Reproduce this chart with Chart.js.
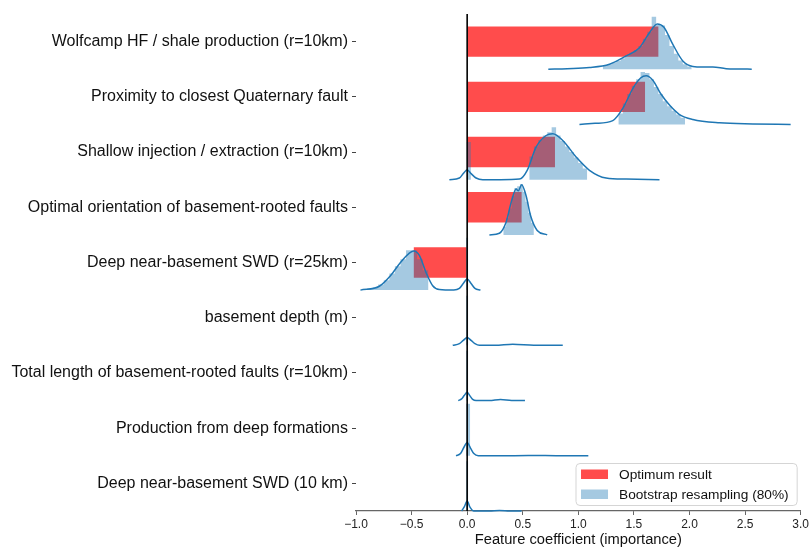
<!DOCTYPE html>
<html>
<head>
<meta charset="utf-8">
<script src="https://cdn.jsdelivr.net/npm/chart.js@4"></script>
<style>
  html, body { margin: 0; padding: 0; background: #fff; }
</style>
</head>
<body>
<canvas id="chart" width="811" height="549"></canvas>
<script>
// feature names, top to bottom
const categories = [
  'Wolfcamp HF / shale production (r=10km)',
  'Proximity to closest Quaternary fault',
  'Shallow injection / extraction (r=10km)',
  'Optimal orientation of basement-rooted faults',
  'Deep near-basement SWD (r=25km)',
  'basement depth (m)',
  'Total length of basement-rooted faults (r=10km)',
  'Production from deep formations',
  'Deep near-basement SWD (10 km)',
];

// optimum coefficient per feature
const optimum = [1.72, 1.60, 0.79, 0.49, -0.48, 0, 0, 0, 0];

// bootstrap KDE curves (x = coefficient, h = height in row units)
const kdeX = [
  [0.73, 0.90, 1.10, 1.28, 1.43, 1.55, 1.64, 1.71, 1.77, 1.85, 1.94, 2.03, 2.12, 2.21, 2.33, 2.45, 2.56],
  [1.01, 1.15, 1.31, 1.40, 1.49, 1.56, 1.61, 1.67, 1.74, 1.82, 1.91, 2.03, 2.27, 2.57, 2.91],
  [-0.16, -0.07, -0.035, 0, 0.035, 0.08, 0.14, 0.30, 0.47, 0.54, 0.62, 0.71, 0.77, 0.86, 0.98, 1.10, 1.25, 1.43, 1.73],
  [0.20, 0.29, 0.35, 0.40, 0.44, 0.46, 0.49, 0.53, 0.57, 0.63, 0.72],
  [-0.96, -0.79, -0.69, -0.60, -0.52, -0.48, -0.43, -0.37, -0.31, -0.25, -0.12, -0.07, -0.035, 0, 0.035, 0.07, 0.12],
  [-0.13, -0.07, -0.035, 0, 0.035, 0.07, 0.11, 0.25, 0.41, 0.60, 0.86],
  [-0.08, -0.05, -0.027, 0, 0.027, 0.05, 0.08, 0.20, 0.30, 0.40, 0.52],
  [-0.10, -0.06, -0.03, 0, 0.03, 0.06, 0.10, 0.30, 0.55, 0.80, 1.09],
  [-0.05, -0.025, 0, 0.025, 0.06, 0.20, 0.29, 0.38, 0.49],
];
const kdeH = [
  [0, 0.01, 0.03, 0.09, 0.24, 0.39, 0.66, 0.82, 0.76, 0.45, 0.15, 0.05, 0.04, 0.04, 0.01, 0.005, 0],
  [0, 0.02, 0.07, 0.29, 0.65, 0.84, 0.88, 0.80, 0.56, 0.35, 0.18, 0.09, 0.03, 0.01, 0],
  [0, 0.03, 0.11, 0.18, 0.11, 0.03, 0, 0, 0.01, 0.17, 0.59, 0.80, 0.83, 0.71, 0.41, 0.17, 0.03, 0.01, 0],
  [0, 0.03, 0.23, 0.62, 0.83, 0.80, 0.91, 0.71, 0.35, 0.08, 0],
  [0, 0.07, 0.26, 0.50, 0.67, 0.71, 0.63, 0.32, 0.08, 0.01, 0, 0.03, 0.12, 0.20, 0.12, 0.03, 0],
  [0, 0.03, 0.09, 0.14, 0.09, 0.03, 0, 0, 0.02, 0.002, 0],
  [0, 0.03, 0.09, 0.15, 0.08, 0.02, 0, 0, 0.02, 0.002, 0],
  [0, 0.04, 0.15, 0.24, 0.14, 0.04, 0, 0, 0.005, 0.002, 0],
  [0, 0.08, 0.18, 0.07, 0, 0, 0.01, 0.002, 0],
];

// bootstrap histograms (bin edges and bin heights)
const histEdges = [
  [1.22, 1.26, 1.30, 1.34, 1.38, 1.42, 1.46, 1.50, 1.54, 1.58, 1.62, 1.66, 1.70, 1.74, 1.78, 1.82, 1.86, 1.90, 1.94, 1.98, 2.02],
  [1.36, 1.40, 1.44, 1.48, 1.52, 1.56, 1.60, 1.64, 1.68, 1.72, 1.76, 1.80, 1.84, 1.88, 1.92, 1.96],
  [-0.006, 0.033, 0.56, 0.60, 0.64, 0.68, 0.72, 0.76, 0.80, 0.84, 0.88, 0.92, 0.96, 1.00, 1.04, 1.08],
  [0.325, 0.35, 0.375, 0.40, 0.425, 0.45, 0.475, 0.50, 0.525, 0.55, 0.575, 0.60],
  [-0.95, -0.90, -0.85, -0.80, -0.75, -0.70, -0.65, -0.60, -0.55, -0.50, -0.45, -0.40, -0.35, -0.01, 0.01],
  [-0.01, 0.01],
  [-0.01, 0.01],
  [-0.01, 0.027],
  [-0.01, 0.01],
];
const histH = [
  [0.07, 0.09, 0.12, 0.15, 0.20, 0.25, 0.30, 0.35, 0.42, 0.55, 0.68, 0.95, 0.80, 0.79, 0.62, 0.42, 0.28, 0.16, 0.09, 0.05],
  [0.20, 0.38, 0.55, 0.70, 0.82, 0.95, 0.93, 0.82, 0.68, 0.55, 0.42, 0.33, 0.25, 0.18, 0.12],
  [0.68, 0, 0.42, 0.60, 0.72, 0.80, 0.86, 0.95, 0.80, 0.70, 0.60, 0.50, 0.40, 0.30, 0.20],
  [0.15, 0.30, 0.48, 0.70, 0.85, 0.88, 0.92, 0.78, 0.60, 0.40, 0.22],
  [0.01, 0.03, 0.05, 0.10, 0.18, 0.30, 0.43, 0.56, 0.72, 0.72, 0.56, 0.36, 0, 0.95],
  [0.90],
  [0.90],
  [0.94],
  [0.90],
];

const xTickValues = [-1.0, -0.5, 0.0, 0.5, 1.0, 1.5, 2.0, 2.5, 3.0];

const RED = 'rgba(255, 0, 0, 0.7)';
const BLUE = '#1f77b4';
const BLUE_FILL = 'rgba(31, 119, 180, 0.4)';
const FONT = '"Liberation Sans", Arial, sans-serif';

const legendItems = [
  { text: 'Optimum result', color: RED },
  { text: 'Bootstrap resampling (80%)', color: BLUE_FILL },
];

const datasets = [];

// zero line on top
datasets.push({
  type: 'line',
  data: [{ x: 0, y: -0.5 }, { x: 0, y: categories.length - 0.5 }],
  borderColor: '#000',
  borderWidth: 1.6,
  pointRadius: 0,
  fill: false,
  order: 0,
});

categories.forEach((_, i) => {
  const base = i + 0.5;
  datasets.push({
    type: 'line',
    data: kdeX[i].map((x, k) => ({ x, y: base - kdeH[i][k] })),
    borderColor: BLUE,
    borderWidth: 1.5,
    pointRadius: 0,
    cubicInterpolationMode: 'monotone',
    fill: false,
    clip: 4,
    order: 1,
  });
  const e = histEdges[i];
  const h = histH[i];
  // first point sits on the baseline, then each bin top is held until the next edge
  const pts = [{ x: e[0], y: base }];
  h.forEach((v, k) => {
    pts.push({ x: e[k], y: base - v });
    pts.push({ x: e[k + 1], y: base - v });
  });
  pts.push({ x: e[e.length - 1], y: base });
  datasets.push({
    type: 'line',
    data: pts,
    tension: 0,
    borderWidth: 0,
    borderColor: 'rgba(0,0,0,0)',
    backgroundColor: BLUE_FILL,
    pointRadius: 0,
    fill: { value: base },
    order: 2,
  });
});

datasets.push({
  type: 'bar',
  indexAxis: 'y',
  data: optimum.map((v, i) => ({ x: v, y: i })),
  backgroundColor: RED,
  borderWidth: 0,
  barPercentage: 0.55,
  categoryPercentage: 1,
  order: 3,
});

const legendBox = {
  id: 'legendBox',
  afterDraw(chart) {
    const { ctx, chartArea } = chart;
    ctx.save();
    ctx.font = '13.7px ' + FONT;
    const textW = Math.max(...legendItems.map(it => ctx.measureText(it.text).width));
    const w = 43.5 + textW + 8;
    const h = 42;
    const right = chartArea.right - 4;
    const bottom = chartArea.bottom - 6;
    const left = right - w;
    const top = bottom - h;
    ctx.beginPath();
    ctx.roundRect(left + 0.5, top + 0.5, w, h, 4);
    ctx.fillStyle = 'rgba(255,255,255,0.8)';
    ctx.fill();
    ctx.strokeStyle = '#d5d5d5';
    ctx.lineWidth = 1;
    ctx.stroke();
    legendItems.forEach((it, k) => {
      const cy = top + 11 + k * 20;
      ctx.fillStyle = it.color;
      ctx.fillRect(left + 5.5, cy - 4.5, 27, 9.5);
      ctx.fillStyle = '#111';
      ctx.textBaseline = 'middle';
      ctx.textAlign = 'left';
      ctx.fillText(it.text, left + 43.5, cy + 1);
    });
    ctx.restore();
  },
};

new Chart(document.getElementById('chart'), {
  type: 'bar',
  data: { datasets },
  options: {
    responsive: false,
    animation: false,
    layout: { padding: { left: 0, right: 10, top: 14, bottom: 0 } },
    plugins: {
      legend: { display: false },
      tooltip: { enabled: false },
    },
    scales: {
      x: {
        type: 'linear',
        offset: false,
        min: -1,
        max: 3,
        afterBuildTicks: (scale) => { scale.ticks = xTickValues.map(value => ({ value })); },
        afterFit: (scale) => { scale.height = 38; },
        ticks: {
          color: '#222',
          font: { family: FONT, size: 12 },
          padding: 2,
          maxRotation: 0,
          callback: (v) => v.toFixed(1).replace('-', '\u2212'),
        },
        grid: { offset: false, drawOnChartArea: false, tickLength: 4, color: '#666', tickWidth: 1 },
        border: { display: true, color: '#666', width: 1.2 },
        title: {
          display: true,
          text: 'Feature coefficient (importance)',
          color: '#111',
          font: { family: FONT, size: 14.7 },
          padding: { top: 0, bottom: 0 },
        },
      },
      y: {
        type: 'linear',
        offset: false,
        reverse: true,
        min: -0.5,
        max: categories.length - 0.5,
        afterBuildTicks: (scale) => { scale.ticks = categories.map((_, i) => ({ value: i })); },
        afterFit: (scale) => { scale.width = 356; },
        ticks: {
          color: '#111',
          font: { family: FONT, size: 16 },
          padding: 4,
          callback: (v) => categories[v],
        },
        grid: { offset: false, drawOnChartArea: false, tickLength: 4, color: '#444', tickWidth: 1 },
        border: { display: false },
      },
    },
  },
  plugins: [legendBox],
});
</script>
</body>
</html>
